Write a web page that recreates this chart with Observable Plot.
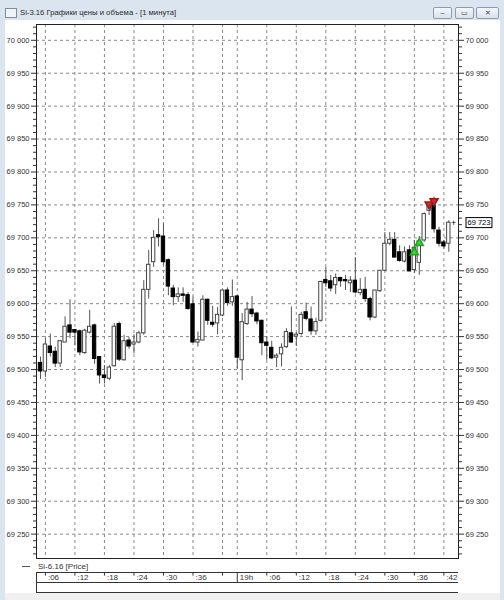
<!DOCTYPE html>
<html><head><meta charset="utf-8">
<script src="https://cdn.jsdelivr.net/npm/d3@7"></script>
<script src="https://cdn.jsdelivr.net/npm/@observablehq/plot@0.6"></script>
<style>
body{margin:0;width:504px;height:600px;overflow:hidden;font-family:"Liberation Sans",Arial,sans-serif;}
#win{position:relative;width:504px;height:600px;background:#dbe5ef;overflow:hidden;}
#content{position:absolute;left:5px;top:20px;width:495px;height:580px;background:#fff;}
#icon{position:absolute;left:5px;top:8px;width:10px;height:8px;border:1px solid #7c8ea4;background:#eef3f8;}
#title{position:absolute;left:20px;top:8px;font-size:7.7px;color:#2a2a2a;white-space:nowrap;}
.btn{position:absolute;top:7px;height:10px;border:1px solid #8c9db2;border-radius:2px;background:linear-gradient(#f4f7fa,#d8e1eb);font-size:7px;color:#444;text-align:center;line-height:10px;}
#price{position:absolute;left:0;top:20px;}
#strip{position:absolute;left:0;top:571px;}
#legend{position:absolute;left:22px;top:562px;font-size:8px;color:#333;white-space:nowrap;}
#legend span.l{display:inline-block;width:8px;border-top:1px solid #555;vertical-align:middle;margin-right:8px;}
#scroll{position:absolute;left:5px;top:593px;width:495px;height:7px;background:#f0f0f0;}
</style></head>
<body><div id="win">
<div id="content"></div>
<div id="icon"></div>
<div id="title">Si-3.16 Графики цены и объема - [1 минута]</div>
<div class="btn" style="left:433px;width:17px">–</div>
<div class="btn" style="left:455px;width:17px">▭</div>
<div class="btn" style="left:476px;width:21px">✕</div>
<div id="price"></div>
<div id="legend"><span class="l"></span>Si-6.16 [Price]</div>
<div id="strip"></div>
<div id="scroll"></div>
</div>
<script>
// candle data (1-minute bars, index 0 = 18:05, index 40 = 19:00)
const open = [69510,69497,69535,69527,69509,69541,69567,69560,69558,69525,69556,69567,69519,69491,69486,69505,69569,69514,69544,69538,69541,69555,69621,69663,69704,69702,69666,69623,69610,69614,69613,69599,69541,69544,69606,69571,69570,69582,69620,69602,
69611,69514,69569,69591,69585,69574,69541,69533,69518,69523,69534,69555,69550,69554,69587,69576,69558,69574,69636,69634,69628,69639,69636,69631,69635,69616,69621,69607,69579,69619,69650,69691,69697,69678,69664,69681,69651,69662,69696,69741,69749,69711,69693,69691];
const close = [69497,69538,69525,69509,69543,69565,69556,69556,69526,69559,69565,69516,69491,69487,69503,69565,69515,69543,69535,69541,69555,69621,69659,69700,69701,69663,69626,69610,69614,69612,69592,69541,69545,69606,69574,69568,69583,69620,69601,69610,
69518,69572,69591,69584,69573,69540,69536,69517,69521,69533,69557,69541,69553,69583,69577,69558,69572,69633,69631,69623,69639,69634,69634,69635,69617,69621,69607,69579,69620,69650,69691,69697,69670,69665,69678,69649,69685,69695,69736,69749,69713,69691,69687,69723];
const high = [69519,69547,69554,69534,69544,69580,69606,69560,69560,69561,69590,69569,69519,69506,69506,69570,69572,69552,69549,69553,69558,69635,69681,69711,69729,69721,69668,69628,69624,69624,69617,69610,69557,69612,69607,69596,69594,69620,69624,69636,
69612,69585,69602,69611,69587,69575,69550,69543,69524,69539,69562,69595,69556,69587,69601,69595,69578,69634,69655,69643,69645,69640,69643,69641,69670,69638,69640,69610,69620,69650,69708,69708,69708,69688,69686,69688,69696,69702,69738,69752,69762,69716,69696,69726];
const low = [69485,69488,69519,69503,69503,69541,69547,69536,69521,69523,69554,69508,69478,69478,69483,69504,69512,69513,69531,69524,69539,69552,69607,69655,69686,69658,69612,69597,69602,69602,69590,69541,69534,69544,69567,69564,69553,69580,69596,69596,
69501,69483,69567,69579,69568,69521,69514,69515,69503,69504,69532,69540,69535,69551,69574,69552,69552,69572,69625,69618,69614,69625,69620,69617,69615,69612,69602,69574,69577,69617,69649,69688,69670,69663,69662,69649,69646,69643,69693,69734,69707,69686,69683,69678];

// time axis ticks (candle index) and labels
const tickIdx    = [1, 7, 13, 19, 25, 31, 37, 40, 46, 52, 58, 64, 70, 76, 82];
const tickLabels = [":06",":12",":18",":24",":30",":36","","19h",":06",":12",":18",":24",":30",":36",":42"];

// price axis ticks
const yMajor = [69250,69300,69350,69400,69450,69500,69550,69600,69650,69700,69750,69800,69850,69900,69950,70000];
const yMinor = [69220,69230,69240,69260,69270,69280,69290,69310,69320,69330,69340,69360,69370,69380,69390,69410,69420,69430,69440,69460,69470,69480,69490,69510,69520,69530,69540,69560,69570,69580,69590,69610,69620,69630,69640,69660,69670,69680,69690,69710,69720,69730,69740,69760,69770,69780,69790,69810,69820,69830,69840,69860,69870,69880,69890,69910,69920,69930,69940,69960,69970,69980,69990,70010,70020];

// trade signals
const buyIdx = [76, 77];   const buyPrice = [69678, 69692];
const sellIdx = [79, 80];  const sellPrice = [69751, 69756];
const lastIdx = 84;        const lastPrice = 69723;

const candles = open.map((o, i) => ({i, open: o, close: close[i], high: high[i], low: low[i], up: close[i] >= o}));
const buys = buyIdx.map((i, k) => ({i, price: buyPrice[k]}));
const sells = sellIdx.map((i, k) => ({i, price: sellPrice[k]}));
const ticks = tickIdx.map((i, k) => ({i, label: tickLabels[k], major: tickLabels[k] === "19h"}));

const fmt = d3.formatLocale({decimal: ".", thousands: " ", grouping: [3], currency: ["", ""]}).format(",");
const xDomain = [-0.81, 84.97];
const xScale = {type: "linear", domain: xDomain};
const FONT = "'Liberation Sans', Arial, sans-serif";
const noText = () => "";

const price = Plot.plot({
  width: 504, height: 542,
  marginLeft: 36, marginRight: 46, marginTop: 4, marginBottom: 4,
  style: {fontFamily: FONT, fontSize: "7.5px", color: "#333", background: "transparent"},
  x: {...xScale, axis: null},
  y: {domain: [69213, 70024], axis: null},
  marks: [
    Plot.gridY({ticks: yMajor, stroke: "#8a8a8a", strokeOpacity: 1, strokeDasharray: "3,3"}),
    Plot.ruleX(ticks, {x: "i", stroke: "#8a8a8a", strokeDasharray: "3,3"}),
    Plot.ruleX(candles, {x: "i", y1: "low", y2: "high", stroke: "#555", strokeWidth: 1}),
    Plot.rect(candles, {x1: d => d.i - 0.34, x2: d => d.i + 0.34, y1: "open", y2: "close",
      fill: d => d.up ? "#fff" : "#000", stroke: d => d.up ? "#444" : "#000", strokeWidth: 1}),
    Plot.dot(buys, {x: "i", y: "price", symbol: "triangle", r: 3, fill: "#33d633", stroke: "#1fa51f"}),
    Plot.dot(sells, {x: "i", y: "price", symbol: "triangle", rotate: 180, r: 3, fill: "#d42a2a", stroke: "#a01818"}),
    Plot.text([lastPrice], {x: lastIdx, y: d => d, text: () => "+", fontSize: 9, fill: "#000"}),
    Plot.frame({stroke: "#222"}),
    Plot.axisY({anchor: "left", ticks: yMajor, tickFormat: fmt, tickSize: 5, tickPadding: 2, stroke: "#333"}),
    Plot.axisY({anchor: "left", ticks: yMinor, tickFormat: noText, tickSize: 3, stroke: "#333"}),
    Plot.axisY({anchor: "right", ticks: yMajor, tickFormat: fmt, tickSize: 5, tickPadding: 2, stroke: "#333"}),
    Plot.axisY({anchor: "right", ticks: yMinor, tickFormat: noText, tickSize: 3, stroke: "#333"}),
    Plot.text([lastPrice], {y: d => d, frameAnchor: "right", dx: 9, textAnchor: "start", text: d => fmt(d), fill: "#000"})
  ]
});
document.getElementById("price").appendChild(price);

// box around the current price label
d3.select(price).selectAll("text").filter(function(){ return this.textContent === fmt(lastPrice); })
  .each(function(){
    const b = this.getBBox();
    d3.select(this.parentNode).insert("rect", () => this)
      .attr("x", b.x - 1.5).attr("y", b.y - 0.5).attr("width", b.width + 3).attr("height", b.height + 1)
      .attr("fill", "#fff").attr("stroke", "#000").attr("transform", this.getAttribute("transform"));
  });

const strip = Plot.plot({
  width: 504, height: 22,
  marginLeft: 36, marginRight: 46, marginTop: 1, marginBottom: 1,
  style: {fontFamily: FONT, fontSize: "8px", color: "#333", background: "transparent"},
  x: {...xScale, axis: null},
  y: {domain: [0, 1], axis: null},
  marks: [
    Plot.ruleY([0, 0.5, 1], {stroke: "#333"}),
    Plot.ruleX([xDomain[0]], {stroke: "#333"}),
    Plot.ruleX(ticks, {x: "i", y1: 1, y2: d => d.major ? 0.5 : 0.82, stroke: "#333"}),
    Plot.text(ticks, {x: "i", y: 0.74, text: "label", textAnchor: "start", dx: 2.5, fill: "#333"})
  ]
});
document.getElementById("strip").appendChild(strip);
</script>
</body></html>
